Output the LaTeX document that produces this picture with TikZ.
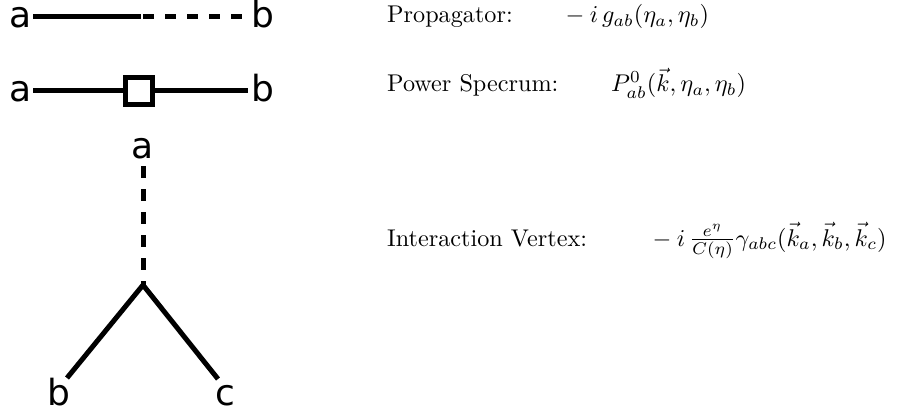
\documentclass[tikz,border=0pt]{standalone}
\usepackage{fontspec}
\usepackage{graphicx}
\newfontfamily\labfont{DejaVu Sans}
\newcommand{\bigtxt}[1]{\scalebox{2.42}{#1}}
\begin{document}
\begin{tikzpicture}[x=1pt,y=-1pt,
  lab/.style={inner sep=0pt,anchor=base,font=\labfont\fontsize{36}{40}\selectfont},
  txt/.style={inner sep=0pt,anchor=base west,font=\fontsize{10}{12}\selectfont},
  thick line/.style={line width=5pt},
  dashline/.style={line width=5pt,dash pattern=on 11pt off 11pt}]
\useasboundingbox (0,0) rectangle (911,415);
% propagator
\node[lab] (pa) at (21,27.5) {a};
\node[lab] (pb) at (262.5,27.5) {b};
\coordinate (p1) at (33,16);
\coordinate (p2) at (141,16);
\coordinate (p3) at (143,16);
\coordinate (p4) at (242,16);
\draw[thick line] (p1) -- (p2);
\draw[dashline] (p3) -- (p4);
% power spectrum
\node[lab] (sa) at (21,101) {a};
\node[lab] (sb) at (262.5,101) {b};
\coordinate (s1) at (33,90.5);
\coordinate (s2) at (248,90.5);
\draw[thick line] (s1) -- (s2);
\node[draw,line width=5pt,fill=white,minimum size=27pt,inner sep=0pt] (sq) at (139,90.5) {};
% vertex
\node[lab] (va) at (142.5,158) {a};
\node[lab] (vb) at (59,405) {b};
\node[lab] (vc) at (225,405) {c};
\coordinate (v0) at (143,166);
\coordinate (v) at (143,285);
\coordinate (vbe) at (67,378);
\coordinate (vce) at (218,379);
\draw[line width=5pt,dash pattern=on 12pt off 11pt] (v0) -- (v);
\draw[thick line] (vbe) -- (v) -- (vce);
% texts
\node[txt] (t1) at (387,22.5) {\bigtxt{Propagator:}};
\node[txt] (f1) at (560,22.5) {\bigtxt{${}-i\,g_{ab}(\eta_a,\eta_b)$}};
\node[txt] (t2) at (387,91.5) {\bigtxt{Power Specrum:}};
\node[txt] (f2) at (611,91.5) {\bigtxt{$P^0_{ab}(\vec{k},\eta_a,\eta_b)$}};
\node[txt] (t3) at (387,246) {\bigtxt{Interaction Vertex:}};
\node[txt] (f3) at (647,246) {\bigtxt{${}-i\,\frac{e^\eta}{C(\eta)}\gamma_{abc}(\vec{k}_a,\vec{k}_b,\vec{k}_c)$}};
\end{tikzpicture}
\end{document}
